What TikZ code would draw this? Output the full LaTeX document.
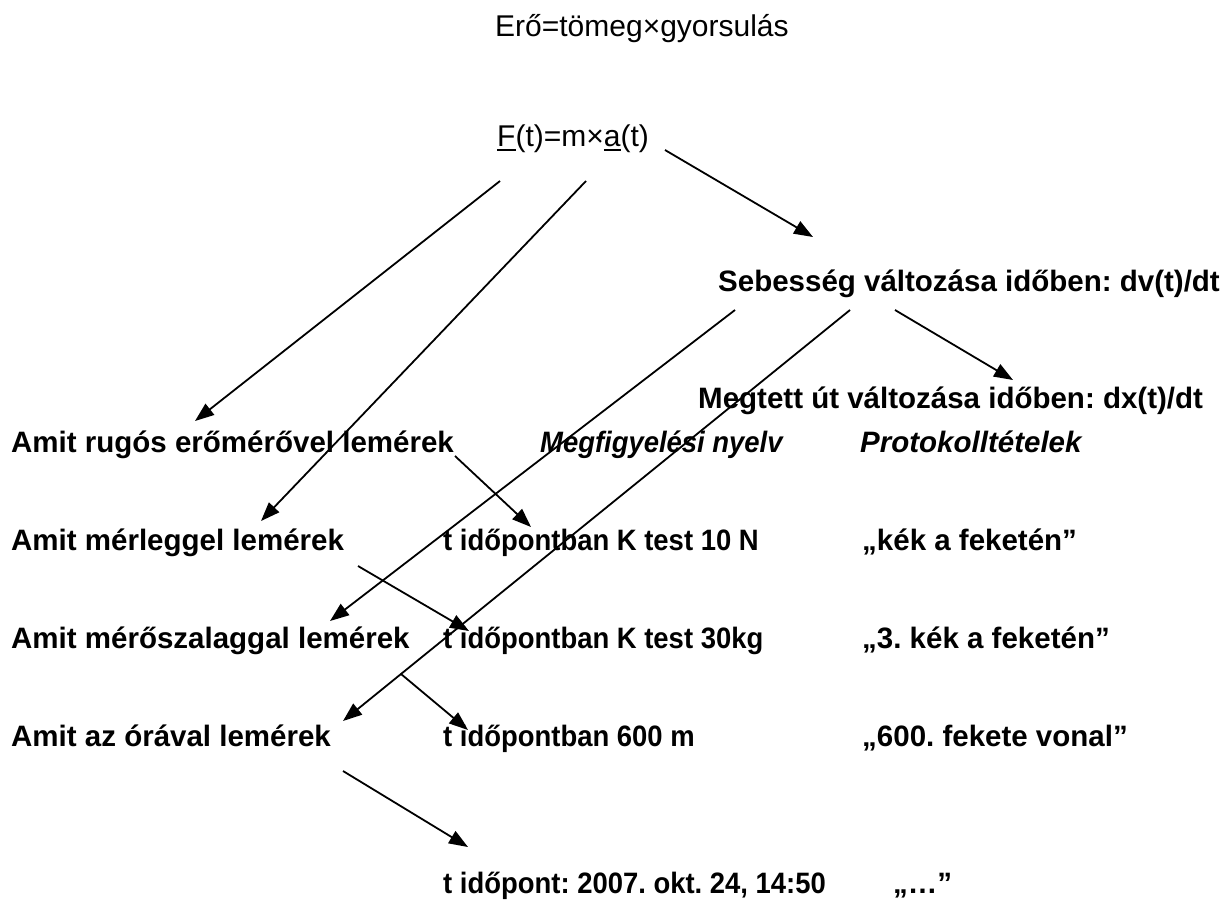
\documentclass[tikz,border=0pt]{standalone}
\usepackage{fontspec}
\setmainfont{Liberation Sans}
\newfontfamily\narrowfam[FakeStretch=0.93]{Liberation Sans}
\usetikzlibrary{arrows.meta}
\frenchspacing
\newcommand\myul[1]{\setbox0\hbox{#1}\rlap{\rule[-5pt]{\wd0}{2.4pt}}#1}
\begin{document}
\begin{tikzpicture}[x=1pt,y=-1pt,
  reg/.style={inner sep=0pt, anchor=base west, font=\fontsize{30}{36}\selectfont},
  lab/.style={inner sep=0pt, anchor=base west, font=\fontsize{29.5}{35}\selectfont\bfseries},
  labn/.style={inner sep=0pt, anchor=base west, font=\narrowfam\fontsize{29.5}{35}\selectfont\bfseries},
  labi/.style={inner sep=0pt, anchor=base west, font=\fontsize{29.5}{35}\selectfont\bfseries\itshape},
  labni/.style={inner sep=0pt, anchor=base west, font=\narrowfam\fontsize{29.5}{35}\selectfont\bfseries\itshape},
  arr/.style={line width=1.8pt, -{Triangle[length=19pt,width=14pt]}}]
\useasboundingbox (0,0) rectangle (1230,905);
% texts
\node[reg] (top) at (495,36) {Erő=tömeg×gyorsulás};
\node[reg] (F) at (497,146) {\myul{F}(t)=m×\myul{a}(t)};
\node[lab] (seb) at (718,291) {Sebesség változása időben: dv(t)/dt};
\node[lab] (meg) at (698,408) {Megtett út változása időben: dx(t)/dt};
\node[lab] (r1a) at (11,452) {Amit rugós erőmérővel lemérek};
\node[labni] (r1b) at (540,452) {Megfigyelési nyelv};
\node[labi] (r1c) at (860,452) {Protokolltételek};
\node[lab] (r2a) at (11,550) {Amit mérleggel lemérek};
\node[labn] (r2b) at (443,550) {t időpontban K test 10 N};
\node[lab] (r2c) at (862,550) {„kék a feketén”};
\node[lab] (r3a) at (11,648) {Amit mérőszalaggal lemérek};
\node[labn] (r3b) at (443,648) {t időpontban K test 30kg};
\node[lab] (r3c) at (862,648) {„3. kék a feketén”};
\node[lab] (r4a) at (11,746) {Amit az órával lemérek};
\node[labn] (r4b) at (443,746) {t időpontban 600 m};
\node[lab] (r4c) at (862,746) {„600. fekete vonal”};
\node[labn] (r5b) at (443,893) {t időpont: 2007. okt. 24, 14:50};
\node[lab] (r5c) at (893,893) {„…”};
% connector ends
\coordinate (a1s) at (665,150); \coordinate (a1e) at (813,237);
\coordinate (a2s) at (500,181); \coordinate (a2e) at (195,421);
\coordinate (a3s) at (586,181); \coordinate (a3e) at (261,521);
\coordinate (a4s) at (735,310); \coordinate (a4e) at (330,621);
\coordinate (a5s) at (850,310); \coordinate (a5e) at (343,721);
\coordinate (a6s) at (895,310); \coordinate (a6e) at (1013,380);
\coordinate (a7s) at (455,456); \coordinate (a7e) at (531,527);
\coordinate (a8s) at (358,566); \coordinate (a8e) at (469,631);
\coordinate (a9s) at (401,674); \coordinate (a9e) at (468,730);
\coordinate (a10s) at (343,771); \coordinate (a10e) at (468,847);
\foreach \i in {1,...,10} \draw[arr] (a\i s) -- (a\i e);
\end{tikzpicture}
\end{document}
